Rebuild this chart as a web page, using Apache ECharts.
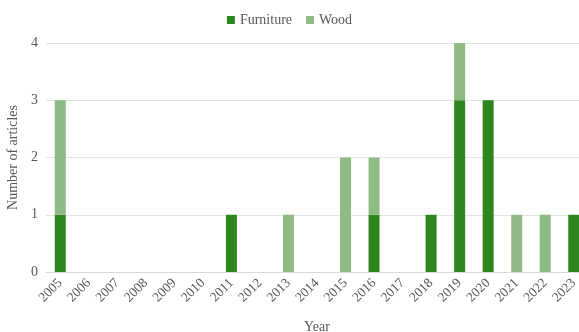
<!DOCTYPE html>
<html>
<head>
<meta charset="utf-8">
<script src="https://cdn.jsdelivr.net/npm/echarts@6/dist/echarts.min.js"></script>
<style>
html,body{margin:0;padding:0;background:#fff;}
#main{width:579px;height:332px;}
</style>
</head>
<body>
<div id="main"></div>
<script>
//年份
var years=['2005','2006','2007','2008','2009','2010','2011','2012','2013','2014','2015','2016','2017','2018','2019','2020','2021','2022','2023'];
//家具
var furniture=[1,0,0,0,0,0,1,0,0,0,0,1,0,1,3,3,0,0,1];
//木材
var wood=[2,0,0,0,0,0,0,0,1,0,2,1,0,0,1,0,1,1,0];
var yTicks=[0,1,2,3,4];

var font='"Liberation Serif", "Times New Roman", serif';
var myChart=echarts.init(document.getElementById('main'));
var option={
	animation:false,
	textStyle:{fontFamily:font},
	legend:{
		top:8,
		left:'center',
		itemWidth:8,
		itemHeight:8,
		itemGap:14,
		icon:'rect',
		textStyle:{fontFamily:font,fontSize:14,color:'#595959'},
		data:['Furniture','Wood']
	},
	grid:{left:46,width:542,top:43,height:229,containLabel:false,outerBoundsMode:'none'},
	xAxis:{
		type:'category',
		data:years,
		name:'Year',
		nameLocation:'middle',
		nameGap:48,
		nameTextStyle:{fontFamily:font,fontSize:14,color:'#595959'},
		axisLine:{lineStyle:{color:'#d9d9d9'}},
		axisTick:{show:false},
		axisLabel:{rotate:45,interval:0,fontFamily:font,fontSize:13.5,color:'#595959',margin:9}
	},
	yAxis:{
		type:'value',
		min:0,
		max:yTicks[yTicks.length-1],
		interval:1,
		name:'Number of articles',
		nameLocation:'middle',
		nameGap:18,
		nameTextStyle:{fontFamily:font,fontSize:14,color:'#595959'},
		axisLine:{show:false},
		axisTick:{show:false},
		axisLabel:{fontFamily:font,fontSize:14,color:'#595959',margin:8},
		splitLine:{lineStyle:{color:'#e3e3e3'}}
	},
	series:[
		{name:'Furniture',type:'bar',stack:'a',data:furniture,barWidth:11,itemStyle:{color:'#2e861f'}},
		{name:'Wood',type:'bar',stack:'a',data:wood,barWidth:11,itemStyle:{color:'#8dbb83'}}
	]
};
myChart.setOption(option);
</script>
</body>
</html>
